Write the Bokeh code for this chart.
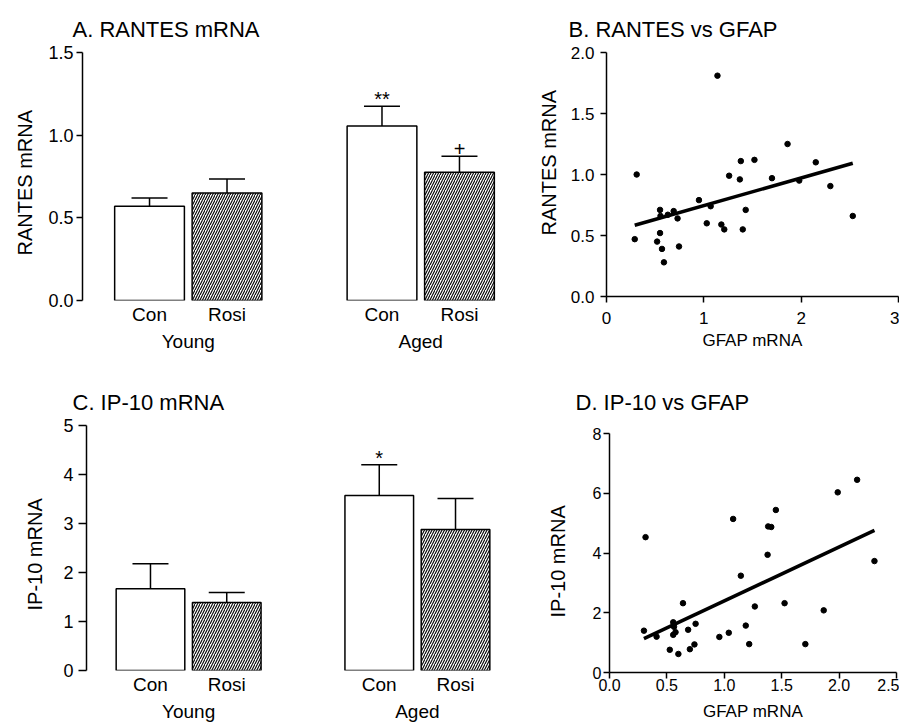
from bokeh.plotting import figure
from bokeh.models import FactorRange, Range1d, FixedTicker, PrintfTickFormatter, ColumnDataSource, Title
from bokeh.layouts import column, row
from bokeh.transform import factor_hatch
from bokeh.core.properties import value
from bokeh.embed import file_html
from bokeh.resources import INLINE

FONT = "Liberation Sans"

# ---------------- data ----------------
groups = ["Young", "Young", "Aged", "Aged"]
treatments = ["Con", "Rosi", "Con", "Rosi"]

rantes_mean = [0.57, 0.65, 1.055, 0.775]
rantes_upper = [0.62, 0.735, 1.175, 0.873]
rantes_sig = ["", "", "**", "+"]
rantes_ticks = [0.0, 0.5, 1.0, 1.5]

ip10_mean = [1.67, 1.39, 3.57, 2.88]
ip10_upper = [2.18, 1.59, 4.20, 3.51]
ip10_sig = ["", "", "*", ""]
ip10_ticks = [0, 1, 2, 3, 4, 5]

gfap_b = [0.29, 0.31, 0.52, 0.55, 0.55, 0.555, 0.57, 0.59, 0.63, 0.69, 0.73, 0.745,
          0.95, 1.03, 1.07, 1.14, 1.18, 1.21, 1.26, 1.37, 1.38, 1.40, 1.43, 1.52,
          1.70, 1.86, 1.98, 2.15, 2.30, 2.53]
rantes_b = [0.47, 1.00, 0.45, 0.71, 0.52, 0.66, 0.39, 0.28, 0.67, 0.70, 0.64, 0.41,
            0.79, 0.60, 0.74, 1.81, 0.59, 0.55, 0.99, 0.96, 1.11, 0.55, 0.71, 1.12,
            0.97, 1.25, 0.95, 1.10, 0.905, 0.66]
fit_b = [0.227, 0.518]          # slope, intercept
b_xticks = [0, 1, 2, 3]
b_yticks = [0.0, 0.5, 1.0, 1.5, 2.0]

gfap_d = [0.30, 0.314, 0.41, 0.525, 0.555, 0.562, 0.555, 0.575, 0.60, 0.64, 0.685, 0.70,
          0.74, 0.75, 0.957, 1.039, 1.077, 1.144, 1.187, 1.217, 1.266, 1.377, 1.382,
          1.409, 1.449, 1.525, 1.706, 1.866, 1.988, 2.157, 2.308]
ip10_d = [1.40, 4.53, 1.20, 0.76, 1.68, 1.53, 1.26, 1.35, 0.62, 2.32, 1.43, 0.78,
          0.94, 1.63, 1.19, 1.33, 5.14, 3.24, 1.57, 0.95, 2.21, 3.94, 4.89,
          4.87, 5.44, 2.32, 0.95, 2.08, 6.03, 6.45, 3.73]
fit_d = [1.806, 0.59]
d_xticks = [0.0, 0.5, 1.0, 1.5, 2.0, 2.5]
d_yticks = [0, 2, 4, 6, 8]


def style_common(p, title, t_off, t_stand, ylabel, y_off, y_stand):
    p.grid.visible = False
    p.outline_line_color = None
    p.background_fill_color = "white"
    p.border_fill_color = "white"
    p.title.text = title
    p.title.text_font = FONT
    p.title.text_font_style = "normal"
    p.title.text_color = "black"
    p.title.text_font_size = "22px"
    p.title.align = "left"
    p.title.offset = t_off
    p.title.standoff = t_stand
    p.add_layout(Title(text=ylabel, align="left", offset=y_off, standoff=y_stand,
                       text_font=FONT, text_font_style="normal", text_color="black",
                       text_font_size="20px"), "left")
    for ax in p.axis:
        ax.axis_label_text_font = FONT
        ax.axis_label_text_font_style = "normal"
        ax.axis_label_text_color = "black"
        ax.major_label_text_font = FONT
        ax.major_label_text_color = "black"
        ax.axis_line_color = "black"
        ax.axis_line_width = 1.5
        ax.major_tick_line_color = "black"
        ax.major_tick_line_width = 1.5
        ax.minor_tick_line_color = None
        ax.major_tick_in = 0


def bar_panel(title, ylabel, means, uppers, sigs, ticks, ytop, pad, fw, fh, borders,
              t_off, t_stand, y_off, y_stand, tick_out, lab_stand):
    factors = list(zip(groups, treatments))
    src = ColumnDataSource(dict(x=factors, mean=means, upper=uppers, sig=sigs))
    xr = FactorRange(*factors, factor_padding=0.0, group_padding=1.0,
                     range_padding=pad, range_padding_units="absolute")
    p = figure(x_range=xr, y_range=Range1d(0, ytop), frame_width=fw, frame_height=fh,
               min_border_left=borders[0], min_border_right=borders[1],
               min_border_top=borders[2], min_border_bottom=borders[3],
               output_backend="svg", toolbar_location=None)
    p.vbar(x="x", top="mean", bottom=0, width=0.9, source=src,
           fill_color="white", line_color="black", line_width=1.5,
           hatch_pattern=factor_hatch("x", patterns=[" ", "/"], factors=["Con", "Rosi"], start=1, end=2),
           hatch_color="black", hatch_scale=5, hatch_weight=1.1)
    p.segment(x0="x", y0="mean", x1="x", y1="upper", source=src, line_color="black", line_width=1.5)
    p.scatter(x="x", y="upper", marker="dash", size=36, source=src, line_color="black", line_width=1.5)
    p.text(x="x", y="upper", text="sig", source=src, text_align="center", text_baseline="alphabetic",
           y_offset=-7, text_font=value(FONT), text_font_size="20px", text_color="black")
    style_common(p, title, t_off, t_stand, ylabel, y_off, y_stand)
    p.yaxis.ticker = FixedTicker(ticks=ticks)
    p.yaxis.formatter = PrintfTickFormatter(format="%.1f" if isinstance(ticks[1], float) else "%d")
    p.yaxis.major_tick_out = tick_out
    p.yaxis.major_label_standoff = lab_stand
    p.yaxis.major_label_text_font_size = "18px"
    xa = p.xaxis[0]
    xa.axis_line_color = None
    xa.major_tick_line_color = None
    xa.major_tick_out = 0
    xa.major_label_standoff = 3
    xa.major_label_text_font_size = "19px"
    xa.group_text_font = FONT
    xa.group_text_font_size = "19px"
    xa.group_text_font_style = "normal"
    xa.group_text_color = "black"
    xa.separator_line_color = None
    return p


def scatter_panel(title, xlabel, ylabel, xs, ys, fit, xticks, yticks, xfmt, yfmt, fw, fh,
                  yscale_extra, borders, t_off, t_stand, y_off, y_stand,
                  tick_font, ylab_stand, xlab_stand, xlabsd):
    p = figure(x_range=Range1d(xticks[0], xticks[-1]),
               y_range=Range1d(yticks[0], yticks[-1] * yscale_extra),
               frame_width=fw, frame_height=fh,
               min_border_left=borders[0], min_border_right=borders[1],
               min_border_top=borders[2], min_border_bottom=borders[3],
               output_backend="svg", toolbar_location=None)
    p.scatter(xs, ys, size=5.5, color="black")
    lx = [min(xs), max(xs)]
    p.line(lx, [fit[0] * v + fit[1] for v in lx], line_width=3.5, color="black")
    style_common(p, title, t_off, t_stand, ylabel, y_off, y_stand)
    p.xaxis.ticker = FixedTicker(ticks=xticks)
    p.yaxis.ticker = FixedTicker(ticks=yticks)
    p.yaxis.bounds = (yticks[0], yticks[-1])
    p.xaxis.formatter = PrintfTickFormatter(format=xfmt)
    p.yaxis.formatter = PrintfTickFormatter(format=yfmt)
    for ax in p.axis:
        ax.major_tick_out = 6
        ax.major_label_text_font_size = tick_font
    p.yaxis.major_label_standoff = ylab_stand
    p.xaxis.major_label_standoff = xlab_stand
    p.xaxis.axis_label = xlabel
    p.xaxis.axis_label_text_font_size = "17px"
    p.xaxis.axis_label_standoff = xlabsd
    return p


pA = bar_panel("A. RANTES mRNA", "RANTES mRNA", rantes_mean, rantes_upper, rantes_sig,
               rantes_ticks, 1.5, 0.365, 444, 248, (82, 0, 52, 74),
               -10, 22, 45, 20, 6, 3)
pB = scatter_panel("B. RANTES vs GFAP", "GFAP mRNA", "RANTES mRNA", gfap_b, rantes_b, fit_b,
                   b_xticks, b_yticks, "%d", "%.1f", 292, 244, 1.0, (80, 1, 52, 74),
                   -38, 22, 61, 16, "17px", 6, 9, 4)
pC = bar_panel("C. IP-10 mRNA", "IP-10 mRNA", ip10_mean, ip10_upper, ip10_sig,
               ip10_ticks, 5, 0.339, 433, 245, (86, 0, 51, 68),
               -14, 21, 60, 30, 8, 5)
pD = scatter_panel("D. IP-10 vs GFAP", "GFAP mRNA", "IP-10 mRNA", gfap_d, ip10_d, fit_d,
                   d_xticks, d_yticks, "%.1f", "%d", 287, 247, 247 / 239, (90, 3, 51, 68),
                   -34, 21, 55, 42, "16px", 2, 0, 8)

layout = column(row(pA, pB), row(pC, pD))
open("out.html", "w").write(file_html(layout, INLINE))
